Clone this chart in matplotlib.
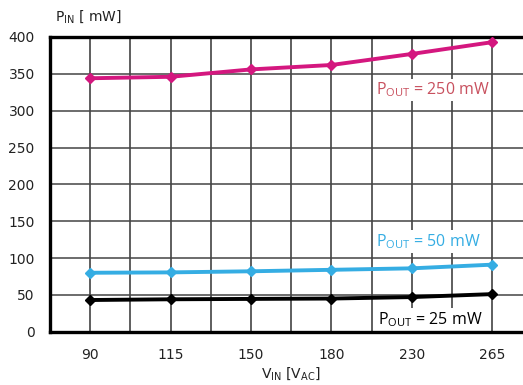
import matplotlib
matplotlib.use("Agg")
import matplotlib.pyplot as plt
import numpy as np

categories = ["90", "115", "150", "180", "230", "265"]
p250 = [344, 346, 356, 362, 377, 393]
p50 = [80, 80.5, 82, 84, 86, 91]
p25 = [43, 44, 44.5, 45, 47, 51]
yticks = [0, 50, 100, 150, 200, 250, 300, 350, 400]

plt.rcParams['font.family'] = ['DejaVu Sans']
plt.rcParams['mathtext.default'] = 'regular'

fig = plt.figure(figsize=(5.23, 3.85), dpi=100)
ax = fig.add_axes([50/523, 1-331.7/385, 482.4/523, (331.7-37)/385])

x = np.arange(len(categories))
ax.set_xlim(-0.5, len(categories) - 0.5)
ax.set_ylim(0, 400)

ax.set_xticks(x)
ax.set_xticklabels(categories)
ax.set_xticks(np.arange(-0.5, len(categories), 1.0), minor=True)
ax.set_yticks(yticks)
ax.tick_params(axis='both', which='both', length=0, labelsize=10, colors='#222222')
ax.tick_params(axis='x', pad=12)
ax.tick_params(axis='y', pad=11)

ax.grid(True, which='both', axis='x', color='#333333', linewidth=1.1, zorder=0)
ax.grid(True, which='major', axis='y', color='#444444', linewidth=1.1, zorder=0)
ax.set_axisbelow(True)

for s in ['left', 'bottom', 'top']:
    ax.spines[s].set_linewidth(2.4)
    ax.spines[s].set_color('black')
ax.spines['right'].set_visible(False)

ax.plot(x, p250, color='#D4177F', lw=2.8, marker='D', ms=5.5, zorder=3, clip_on=False)
ax.plot(x, p50, color='#35ADE3', lw=2.8, marker='D', ms=5.5, zorder=3, clip_on=False)
ax.plot(x, p25, color='black', lw=2.8, marker='D', ms=5.5, zorder=3, clip_on=False)

tf = dict(family=['Open Sans', 'DejaVu Sans'], fontsize=11.5, va='center', ha='left', zorder=2,
          bbox=dict(facecolor='white', edgecolor='none', pad=1.5))
ax.text(3.55, 328, r'P$_{OUT}$ = 250 mW', color='#C8505E', **tf)
ax.text(3.55, 122, r'P$_{OUT}$ = 50 mW', color='#35ADE3', **tf)
ax.text(3.58, 16, r'P$_{OUT}$ = 25 mW', color='black', **tf)

fig.text(55/523, 1-17/385, r'P$_{IN}$ [ mW]', fontsize=10, ha='left', va='center', color='#222222')
fig.text(291/523, 1-374/385, r'V$_{IN}$ [V$_{AC}$]', fontsize=10, ha='center', va='center', color='#222222')

fig.savefig('out.png', dpi=100)
